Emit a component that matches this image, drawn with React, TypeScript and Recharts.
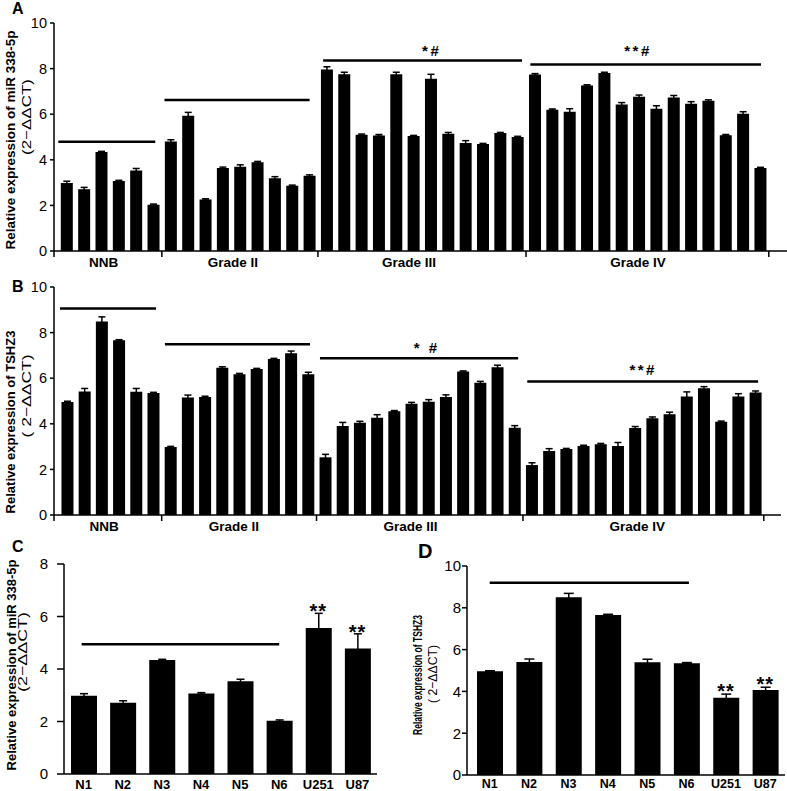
import { BarChart, Bar, XAxis, YAxis, ErrorBar, ReferenceLine, ReferenceDot } from "recharts";

const groupNames = ["NNB", "Grade II", "Grade III", "Grade IV"];

// A: miR 338-5p in tissues
const mirNnb = [2.98, 2.71, 4.34, 3.07, 3.53, 2.03];
const mirNnbErr = [0.08, 0.08, 0.03, 0.03, 0.09, 0.03];
const mirG2 = [4.8, 5.93, 2.26, 3.64, 3.7, 3.89, 3.19, 2.86, 3.3];
const mirG2Err = [0.08, 0.15, 0.03, 0.04, 0.08, 0.04, 0.07, 0.03, 0.04];
const mirG3 = [7.96, 7.75, 5.1, 5.07, 7.75, 5.04, 7.56, 5.14, 4.74, 4.69, 5.17, 5.0];
const mirG3Err = [0.12, 0.09, 0.03, 0.04, 0.09, 0.03, 0.19, 0.06, 0.1, 0.03, 0.03, 0.03];
const mirG4 = [7.74, 6.2, 6.11, 7.26, 7.81, 6.42, 6.77, 6.24, 6.73, 6.46, 6.59, 5.08, 6.02, 3.64];
const mirG4Err = [0.04, 0.03, 0.13, 0.03, 0.03, 0.09, 0.07, 0.13, 0.09, 0.09, 0.04, 0.03, 0.09, 0.03];

// B: TSHZ3 in tissues
const tshNnb = [4.96, 5.42, 8.49, 7.66, 5.41, 5.35];
const tshNnbErr = [0.03, 0.13, 0.2, 0.03, 0.14, 0.03];
const tshG2 = [2.98, 5.15, 5.17, 6.46, 6.17, 6.4, 6.84, 7.09, 6.17];
const tshG2Err = [0.03, 0.11, 0.04, 0.04, 0.04, 0.03, 0.03, 0.1, 0.09];
const tshG3 = [2.53, 3.9, 4.05, 4.27, 4.55, 4.88, 4.97, 5.18, 6.29, 5.8, 6.48, 3.83];
const tshG3Err = [0.13, 0.16, 0.06, 0.13, 0.03, 0.06, 0.09, 0.09, 0.03, 0.06, 0.09, 0.09];
const tshG4 = [2.19, 2.81, 2.89, 3.03, 3.1, 3.03, 3.82, 4.24, 4.42, 5.2, 5.56, 4.09, 5.2, 5.37];
const tshG4Err = [0.1, 0.1, 0.03, 0.03, 0.04, 0.15, 0.06, 0.06, 0.09, 0.2, 0.07, 0.03, 0.12, 0.07];

// significance bars over each group (x in bar-index units)
const mirBarY = [4.79, 6.62, 8.36, 8.18];
const mirBarFrom = [-0.47, 5.65, 14.8, 26.75];
const mirBarTo = [5.12, 14.02, 26.27, 40.05];
const mirMarks = ["", "", "*#", "**#"];
const mirMarkX = [0, 0, 21.06, 32.96];
const mirMarkOff = [0, 0, 4, 8];
const mirLabelPos = [2.14, 9.6, 19.75, 32.96];

const tshBarY = [9.06, 7.49, 6.87, 5.85];
const tshBarFrom = [-0.41, 5.69, 14.7, 26.75];
const tshBarTo = [5.17, 14.12, 26.22, 40.17];
const tshMarks = ["", "", "* #", "**#"];
const tshMarkX = [0, 0, 20.9, 33.49];
const tshMarkOff = [0, 0, 5.5, 6.5];
const tshLabelPos = [2.15, 9.7, 19.97, 33.15];

// C, D: cell lines
const cellNames = ["N1", "N2", "N3", "N4", "N5", "N6", "U251", "U87"];
const mirCells = [2.98, 2.71, 4.34, 3.07, 3.53, 2.03, 5.56, 4.78];
const mirCellsErr = [0.08, 0.08, 0.03, 0.03, 0.08, 0.03, 0.56, 0.56];
const tshCells = [4.96, 5.41, 8.5, 7.66, 5.4, 5.35, 3.7, 4.07];
const tshCellsErr = [0.03, 0.14, 0.19, 0.03, 0.14, 0.03, 0.17, 0.13];
const cellStars = ["", "", "", "", "", "", "**", "**"];
const mirCellBar = { from: -0.05, to: 5, y: 4.94 };
const tshCellBar = { from: 0, to: 5.06, y: 9.2 };

const font = '"Liberation Sans", Arial, sans-serif';
const axisStyle = { stroke: "#000", strokeWidth: 1.5 };

const rowsOf = (vals: number[][], errs: number[][]) => {
  const e = errs.flat();
  return vals.flat().map((v, i) => ({ pos: i, value: v, err: e[i] }));
};

const mirRows = rowsOf([mirNnb, mirG2, mirG3, mirG4], [mirNnbErr, mirG2Err, mirG3Err, mirG4Err]);
const tshRows = rowsOf([tshNnb, tshG2, tshG3, tshG4], [tshNnbErr, tshG2Err, tshG3Err, tshG4Err]);
const groupSizes = [mirNnb.length, mirG2.length, mirG3.length, mirG4.length];
const bounds = groupSizes.map((_, i) => groupSizes.slice(0, i + 1).reduce((a, b) => a + b, 0) - 0.5);

type Line = { text: string; x: number; y: number; size: number; bold?: boolean; len?: number };

function PanelText(props: any) {
  const { letter, lx, ly, lsize, lines } = props;
  return (
    <g>
      <text x={lx} y={ly} fontSize={lsize} fontWeight="bold" fill="#000">
        {letter}
      </text>
      {(lines as Line[]).map((l, i) => (
        <text
          key={i}
          transform={`translate(${l.x},${l.y}) rotate(-90)`}
          textAnchor="middle"
          dominantBaseline="central"
          fontSize={l.size}
          fontWeight={l.bold ? "bold" : "normal"}
          fill="#000"
          textLength={l.len}
          lengthAdjust={l.len ? "spacingAndGlyphs" : undefined}
        >
          {l.text}
        </text>
      ))}
    </g>
  );
}

function GroupTick(props: any) {
  const { x, y, payload, centers } = props;
  const gi = centers.indexOf(payload.value);
  if (gi >= 0)
    return (
      <text x={x} y={y + 15.5} textAnchor="middle" fontSize={13.5} fontWeight="bold" fill="#000">
        {groupNames[gi]}
      </text>
    );
  return <line x1={x} x2={x} y1={y} y2={y + 6} stroke="#000" strokeWidth={1.5} />;
}

function GradePanel(props: any) {
  const { top, rows, xDomain, right, barY, barFrom, barTo, marks, markX, markOff, labelPos, title } = props;
  const ticks = [xDomain[0], ...bounds, ...labelPos].sort((a, b) => a - b);
  return (
    <div style={{ position: "absolute", left: 0, top, width: 787, height: 275, fontFamily: font }}>
      <BarChart width={787} height={275} data={rows} margin={{ top: 23, right, bottom: 0, left: 0 }}>
        <XAxis
          type="number"
          dataKey="pos"
          domain={xDomain}
          ticks={ticks}
          interval={0}
          tickSize={0}
          tickMargin={0}
          tickLine={false}
          axisLine={axisStyle}
          height={24}
          tick={<GroupTick centers={labelPos} />}
        />
        <YAxis
          type="number"
          domain={[0, 10]}
          ticks={[0, 2, 4, 6, 8, 10]}
          interval={0}
          width={54}
          tickSize={4}
          tickMargin={3}
          axisLine={axisStyle}
          tickLine={axisStyle}
          tick={{ fill: "#000", fontSize: 14.5 }}
          label={<PanelText {...title} />}
        />
        <Bar dataKey="value" fill="#000" barSize={12} isAnimationActive={false}>
          <ErrorBar dataKey="err" width={3.5} stroke="#000" strokeWidth={1.5} direction="y" />
        </Bar>
        {barY.map((y: number, i: number) => (
          <ReferenceLine
            key={`l${i}`}
            segment={[
              { x: barFrom[i], y },
              { x: barTo[i], y },
            ]}
            stroke="#000"
            strokeWidth={2.5}
          />
        ))}
        {marks.map((m: string, i: number) =>
          m ? (
            <ReferenceDot
              key={`m${i}`}
              x={markX[i]}
              y={barY[i]}
              r={0}
              stroke="none"
              label={{ value: m, position: "top", offset: markOff[i], fill: "#000", fontSize: 15, fontWeight: "bold", letterSpacing: 2.5 }}
            />
          ) : null
        )}
      </BarChart>
    </div>
  );
}

function CellPanel(props: any) {
  const { left, width, values, errs, yMax, yTicks, yWidth, tickSize, tickMargin, top, xHeight, xMargin, padLeft, right, bar, starOff, capW, title, labelSize } = props;
  const rows = values.map((v: number, i: number) => ({ pos: i, value: v, err: errs[i] }));
  return (
    <div style={{ position: "absolute", left, top: 530, width, height: 261, fontFamily: font }}>
      <BarChart width={width} height={261} data={rows} margin={{ top, right, bottom: 0, left: 0 }}>
        <XAxis
          type="number"
          dataKey="pos"
          domain={[-0.5, 7.5]}
          ticks={cellNames.map((_, i) => i)}
          interval={0}
          padding={{ left: padLeft, right: 0 }}
          tickFormatter={(v: number) => cellNames[v]}
          tickSize={0}
          tickMargin={xMargin}
          tickLine={false}
          axisLine={axisStyle}
          height={xHeight}
          tick={{ fill: "#000", fontSize: labelSize, fontWeight: "bold" }}
        />
        <YAxis
          type="number"
          domain={[0, yMax]}
          ticks={yTicks}
          interval={0}
          width={yWidth}
          tickSize={tickSize}
          tickMargin={tickMargin}
          axisLine={axisStyle}
          tickLine={axisStyle}
          tick={{ fill: "#000", fontSize: 15 }}
          label={<PanelText {...title} />}
        />
        <Bar dataKey="value" fill="#000" barSize={26} isAnimationActive={false}>
          <ErrorBar dataKey="err" width={capW} stroke="#000" strokeWidth={1.5} direction="y" />
        </Bar>
        <ReferenceLine
          segment={[
            { x: bar.from, y: bar.y },
            { x: bar.to, y: bar.y },
          ]}
          stroke="#000"
          strokeWidth={2.5}
        />
        {cellStars.map((s, i) =>
          s ? (
            <ReferenceDot
              key={i}
              x={i}
              y={values[i] + errs[i]}
              r={0}
              stroke="none"
              label={{ value: s, position: "top", offset: starOff, fill: "#000", fontSize: 20, fontWeight: "bold", letterSpacing: 1 }}
            />
          ) : null
        )}
      </BarChart>
    </div>
  );
}

export default function App() {
  return (
    <div style={{ position: "absolute", left: 0, top: 0, width: 787, height: 791, background: "#fff" }}>
      <GradePanel
        top={0}
        rows={mirRows}
        xDomain={[-0.72, 41.55]}
        right={0}
        barY={mirBarY}
        barFrom={mirBarFrom}
        barTo={mirBarTo}
        marks={mirMarks}
        markX={mirMarkX}
        markOff={mirMarkOff}
        labelPos={mirLabelPos}
        title={{
          letter: "A",
          lx: 12,
          ly: 14,
          lsize: 16,
          lines: [
            { text: "Relative expression of miR 338-5p", x: 10.5, y: 140, size: 13.5, bold: true },
            { text: "(2\u2212\u0394\u0394CT)", x: 26, y: 117, size: 13, len: 76 },
          ],
        }}
      />
      <GradePanel
        top={264}
        rows={tshRows}
        xDomain={[-0.76, 41.5]}
        right={6}
        barY={tshBarY}
        barFrom={tshBarFrom}
        barTo={tshBarTo}
        marks={tshMarks}
        markX={tshMarkX}
        markOff={tshMarkOff}
        labelPos={tshLabelPos}
        title={{
          letter: "B",
          lx: 12,
          ly: 28,
          lsize: 16,
          lines: [
            { text: "Relative expression of TSHZ3", x: 10, y: 158, size: 13, bold: true },
            { text: "( 2\u2212\u0394\u0394CT)", x: 26, y: 132, size: 13, len: 83 },
          ],
        }}
      />
      <CellPanel
        left={0}
        width={377}
        values={mirCells}
        errs={mirCellsErr}
        yMax={8}
        yTicks={[0, 2, 4, 6, 8]}
        yWidth={64}
        tickSize={7}
        tickMargin={9}
        top={34}
        xHeight={17}
        xMargin={6}
        padLeft={0}
        right={0}
        bar={mirCellBar}
        starOff={-5}
        capW={4}
        labelSize={13}
        title={{
          letter: "C",
          lx: 12,
          ly: 22,
          lsize: 16,
          lines: [
            { text: "Relative expression of miR 338-5p", x: 11.5, y: 135, size: 13, bold: true },
            { text: "(2\u2212\u0394\u0394CT)", x: 22.5, y: 122, size: 13, len: 80 },
          ],
        }}
      />
      <CellPanel
        left={400}
        width={387}
        values={tshCells}
        errs={tshCellsErr}
        yMax={10}
        yTicks={[0, 2, 4, 6, 8, 10]}
        yWidth={67}
        tickSize={5}
        tickMargin={1}
        top={36}
        xHeight={16}
        xMargin={4}
        padLeft={3}
        right={2}
        bar={tshCellBar}
        starOff={-4}
        capW={5}
        labelSize={12.5}
        title={{
          letter: "D",
          lx: 18,
          ly: 28,
          lsize: 20,
          lines: [
            { text: "Relative expression of TSHZ3", x: 17, y: 145, size: 13.5, bold: true, len: 120 },
            { text: "( 2\u2212\u0394\u0394CT)", x: 32.5, y: 144, size: 13, len: 58 },
          ],
        }}
      />
    </div>
  );
}
